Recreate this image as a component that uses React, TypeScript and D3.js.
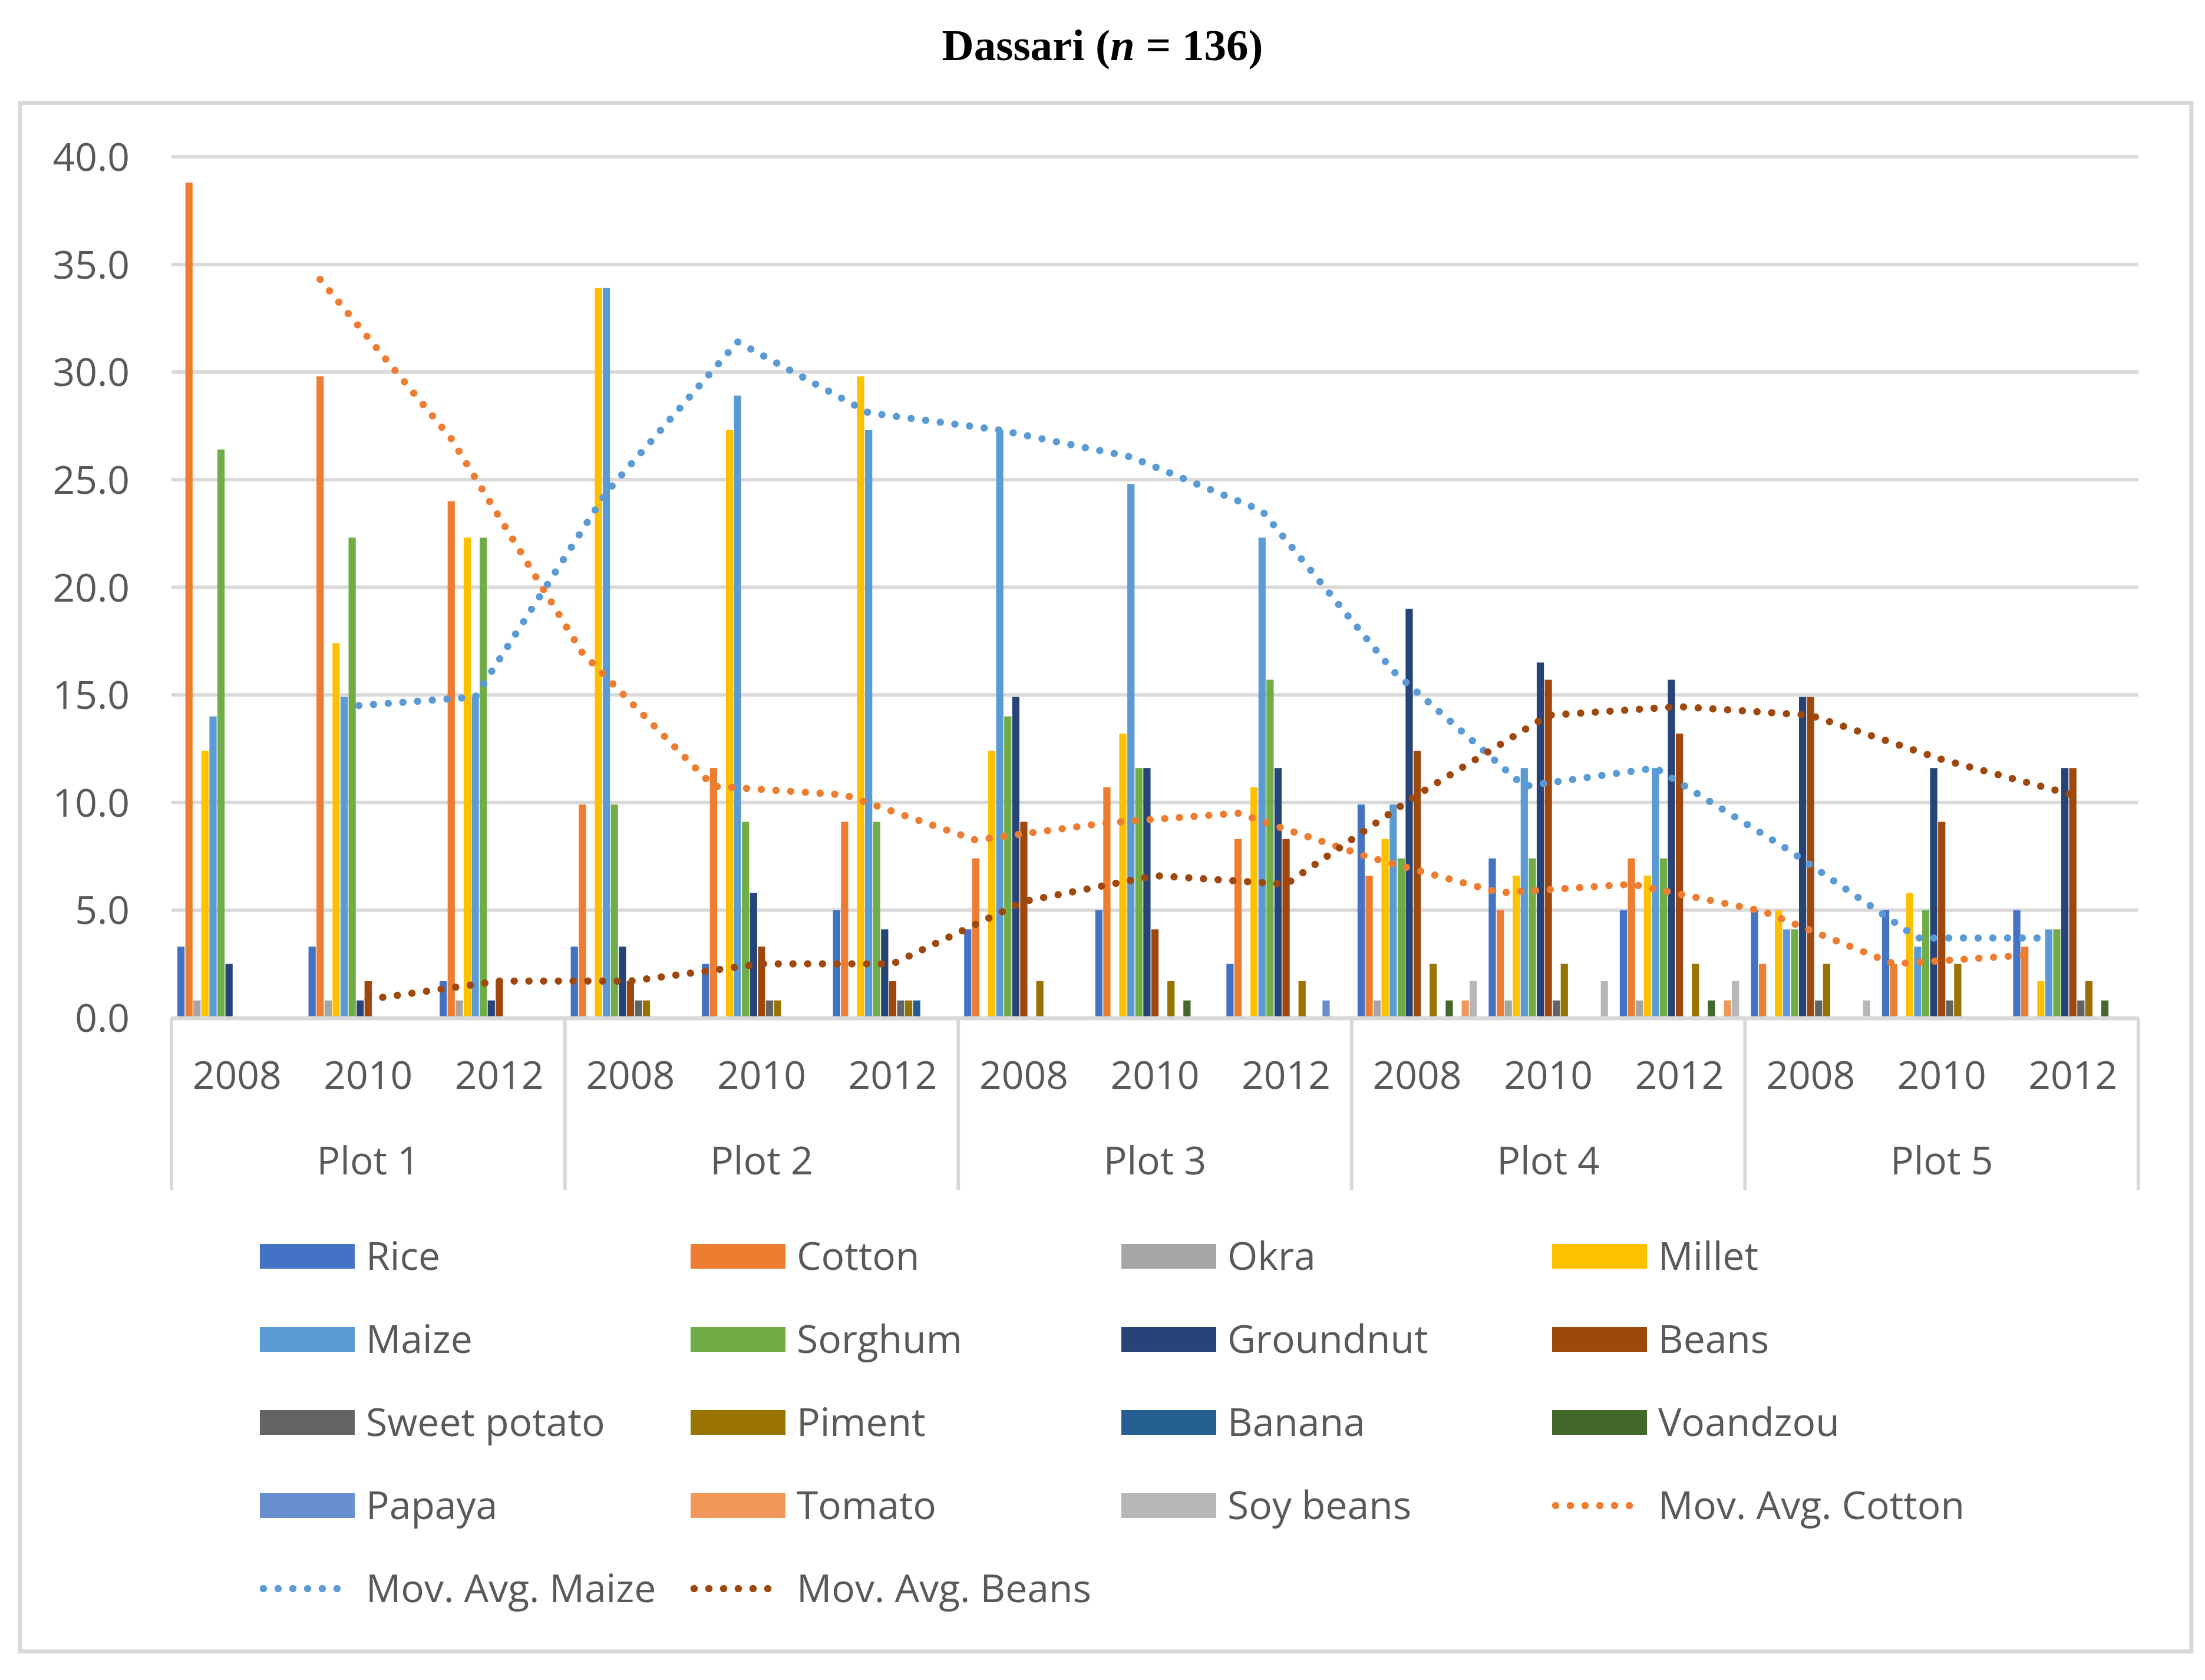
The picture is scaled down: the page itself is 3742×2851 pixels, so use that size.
import React from "react";
import * as d3 from "d3";

// categories (plot / year)
const plots = ["Plot 1", "Plot 2", "Plot 3", "Plot 4", "Plot 5"];
const years = ["2008", "2010", "2012"];
const categories = plots.flatMap((p) => years.map((y) => `${p}|${y}`));

// series values, one per category (Plot 1 2008 ... Plot 5 2012), in %
const rice = [3.3, 3.3, 1.7, 3.3, 2.5, 5.0, 4.1, 5.0, 2.5, 9.9, 7.4, 5.0, 5.0, 5.0, 5.0];
const cotton = [38.8, 29.8, 24.0, 9.9, 11.6, 9.1, 7.4, 10.7, 8.3, 6.6, 5.0, 7.4, 2.5, 2.5, 3.3];
const okra = [0.8, 0.8, 0.8, 0, 0, 0, 0, 0, 0, 0.8, 0.8, 0.8, 0, 0, 0];
const millet = [12.4, 17.4, 22.3, 33.9, 27.3, 29.8, 12.4, 13.2, 10.7, 8.3, 6.6, 6.6, 5.0, 5.8, 1.7];
const maize = [14.0, 14.9, 14.9, 33.9, 28.9, 27.3, 27.3, 24.8, 22.3, 9.9, 11.6, 11.6, 4.1, 3.3, 4.1];
const sorghum = [26.4, 22.3, 22.3, 9.9, 9.1, 9.1, 14.0, 11.6, 15.7, 7.4, 7.4, 7.4, 4.1, 5.0, 4.1];
const groundnut = [2.5, 0.8, 0.8, 3.3, 5.8, 4.1, 14.9, 11.6, 11.6, 19.0, 16.5, 15.7, 14.9, 11.6, 11.6];
const beans = [0, 1.7, 1.7, 1.7, 3.3, 1.7, 9.1, 4.1, 8.3, 12.4, 15.7, 13.2, 14.9, 9.1, 11.6];
const sweetPotato = [0, 0, 0, 0.8, 0.8, 0.8, 0, 0, 0, 0, 0.8, 0, 0.8, 0.8, 0.8];
const piment = [0, 0, 0, 0.8, 0.8, 0.8, 1.7, 1.7, 1.7, 2.5, 2.5, 2.5, 2.5, 2.5, 1.7];
const banana = [0, 0, 0, 0, 0, 0.8, 0, 0, 0, 0, 0, 0, 0, 0, 0];
const voandzou = [0, 0, 0, 0, 0, 0, 0, 0.8, 0, 0.8, 0, 0.8, 0, 0, 0.8];
const papaya = [0, 0, 0, 0, 0, 0, 0, 0, 0.8, 0, 0, 0, 0, 0, 0];
const tomato = [0, 0, 0, 0, 0, 0, 0, 0, 0, 0.8, 0, 0.8, 0, 0, 0];
const soyBeans = [0, 0, 0, 0, 0, 0, 0, 0, 0, 1.7, 1.7, 1.7, 0.8, 0, 0];

const seriesNames = [
    "Rice", "Cotton", "Okra", "Millet", "Maize", "Sorghum", "Groundnut", "Beans",
    "Sweet potato", "Piment", "Banana", "Voandzou", "Papaya", "Tomato", "Soy beans",
];
const seriesValues = [
    rice, cotton, okra, millet, maize, sorghum, groundnut, beans,
    sweetPotato, piment, banana, voandzou, papaya, tomato, soyBeans,
];
const seriesColors = [
    "#4472C4", "#ED7D31", "#A5A5A5", "#FFC000", "#5B9BD5", "#70AD47", "#264478", "#9E480E",
    "#636363", "#997300", "#255E91", "#43682B", "#698ED0", "#F1975A", "#B7B7B7",
];

// 2-period moving average trendlines
const trendSeries = ["Cotton", "Maize", "Beans"];

const yTicks = d3.range(0, 41, 5);

const W = 3742;
const H = 2851;
const left = 291;
const right = 3629;
const top = 266;
const bottom = 1727;
const grey = "#595959";
const lineGrey = "#D9D9D9";
const font = "'Open Sans', sans-serif";

export default function App() {
    const x0 = d3.scaleBand<string>().domain(categories).range([left, right]).paddingInner(0.09).paddingOuter(0.045);
    const x1 = d3.scaleBand<string>().domain(seriesNames).range([0, x0.bandwidth()]).paddingInner(0.1);
    const y = d3.scaleLinear().domain([0, 40]).range([bottom, top]);
    const fmt = d3.format(".1f");
    const step = (right - left) / categories.length;

    const line = d3.line<[number, number]>().x((d) => d[0]).y((d) => d[1]);

    const trends = trendSeries.map((name) => {
        const i = seriesNames.indexOf(name);
        const vals = seriesValues[i];
        const pts: [number, number][] = [];
        for (let k = 1; k < vals.length; k++) {
            const avg = d3.mean([vals[k - 1], vals[k]]) as number;
            pts.push([(x0(categories[k]) as number) + (x1(name) as number) + x1.bandwidth() / 2, y(avg)]);
        }
        return { name, color: seriesColors[i], d: line(pts) as string };
    });

    const legendItems = [
        ...seriesNames.map((n, i) => ({ label: n, color: seriesColors[i], dotted: false })),
        ...trends.map((t) => ({ label: `Mov. Avg. ${t.name}`, color: t.color, dotted: true })),
    ];
    const legendX = d3.scaleLinear().domain([0, 1]).range([441, 1172]);
    const legendY = d3.scaleLinear().domain([0, 1]).range([2132, 2273]);

    return (
        <svg width={W} height={H} style={{ position: "absolute", left: 0, top: 0, background: "#fff" }}>
            <rect x={0} y={0} width={W} height={H} fill="#fff" />
            <text x={W / 2} y={102} textAnchor="middle" fontFamily="'Liberation Serif', serif" fontWeight="bold" fontSize={75} fill="#000">
                Dassari (<tspan fontStyle="italic">n</tspan> = 136)
            </text>
            <rect x={34} y={174.5} width={3685} height={2628} fill="none" stroke={lineGrey} strokeWidth={7} />

            {/* grid */}
            {yTicks.filter((t) => t > 0).map((t) => (
                <line key={t} x1={left} x2={right} y1={y(t)} y2={y(t)} stroke={lineGrey} strokeWidth={6} />
            ))}
            {yTicks.map((t) => (
                <text key={t} x={220} y={y(t) + 24} textAnchor="end" fontFamily={font} fontSize={66} fill={grey}>
                    {fmt(t)}
                </text>
            ))}

            {/* bars */}
            {seriesNames.map((name, si) => (
                <g key={name} fill={seriesColors[si]}>
                    {seriesValues[si].map((v, ci) =>
                        v > 0 ? (
                            <rect
                                key={ci}
                                x={(x0(categories[ci]) as number) + (x1(name) as number)}
                                y={y(v)}
                                width={x1.bandwidth()}
                                height={y(0) - y(v)}
                            />
                        ) : null
                    )}
                </g>
            ))}

            {/* category axis */}
            <line x1={left} x2={right} y1={bottom + 1} y2={bottom + 1} stroke={lineGrey} strokeWidth={7} />
            {d3.range(plots.length + 1).map((i) => (
                <line key={i} x1={left + i * 3 * step} x2={left + i * 3 * step} y1={bottom} y2={2020} stroke={lineGrey} strokeWidth={6} />
            ))}
            {categories.map((c) => (
                <text key={c} x={(x0(c) as number) + x0.bandwidth() / 2} y={1848} textAnchor="middle" fontFamily={font} fontSize={66} fill={grey}>
                    {c.split("|")[1]}
                </text>
            ))}
            {plots.map((p, i) => (
                <text key={p} x={left + (i * 3 + 1.5) * step} y={1993} textAnchor="middle" fontFamily={font} fontSize={66} fill={grey}>
                    {p}
                </text>
            ))}

            {/* moving averages */}
            {trends.map((t) => (
                <path key={t.name} d={t.d} fill="none" stroke={t.color} strokeWidth={12.5} strokeDasharray="0 25" strokeLinecap="round" />
            ))}

            {/* legend */}
            {legendItems.map((it, i) => {
                const lx = legendX(i % 4);
                const ly = legendY(Math.floor(i / 4));
                return (
                    <g key={it.label}>
                        {it.dotted ? (
                            <line x1={lx + 6} x2={lx + 156} y1={ly} y2={ly} stroke={it.color} strokeWidth={12.5} strokeDasharray="0 25" strokeLinecap="round" />
                        ) : (
                            <rect x={lx} y={ly - 21} width={161} height={42} fill={it.color} />
                        )}
                        <text x={lx + 180} y={ly + 23} fontFamily={font} fontSize={66} fill={grey}>
                            {it.label}
                        </text>
                    </g>
                );
            })}
        </svg>
    );
}
